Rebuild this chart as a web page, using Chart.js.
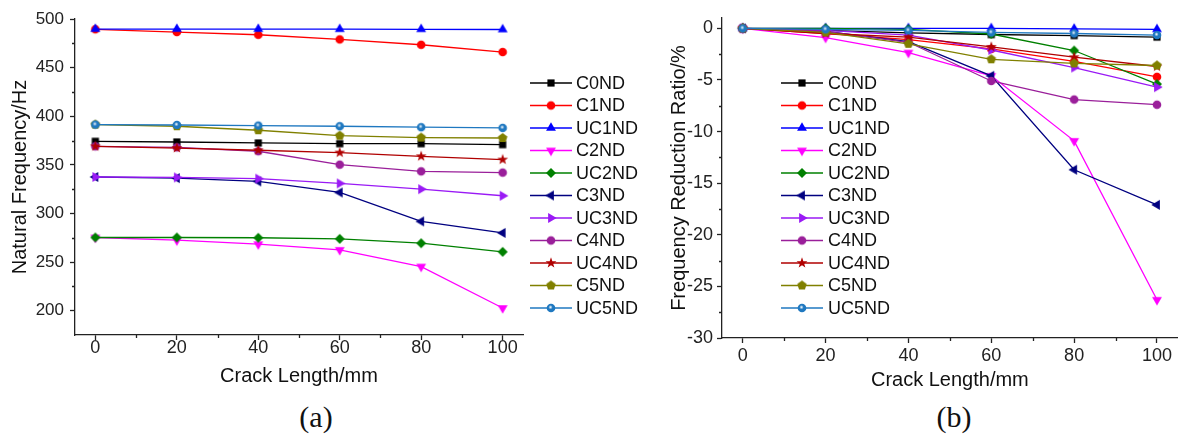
<!DOCTYPE html>
<html>
<head>
<meta charset="utf-8">
<script src="https://cdn.jsdelivr.net/npm/chart.js@4.4.1/dist/chart.umd.min.js"></script>
<style>
  html, body { margin:0; padding:0; background:#fff; }
  body { width:1178px; height:435px; position:relative; overflow:hidden; font-family:"Liberation Sans", Arial, sans-serif; }
  canvas { position:absolute; top:0; }
  #cA { left:0; }
  #cB { left:640px; }
  .cap { position:absolute; font-family:"Liberation Serif","Times New Roman",serif; font-size:30px; color:#111; transform:translate(-50%,-50%); }
</style>
</head>
<body>
<canvas id="cA" width="640" height="400"></canvas>
<canvas id="cB" width="544" height="400"></canvas>
<div class="cap" style="left:316px; top:417px;">(a)</div>
<div class="cap" style="left:954px; top:417px;">(b)</div>
<script>
// ---------- DATA ----------
const crackLength = [0, 20, 40, 60, 80, 100];
const seriesNames = ['C0ND','C1ND','UC1ND','C2ND','UC2ND','C3ND','UC3ND','C4ND','UC4ND','C5ND','UC5ND'];

// (a) Natural frequency / Hz
const freqC0ND  = [374.2, 373.5, 372.5, 371.8, 371.8, 370.8];
const freqC1ND  = [489.4, 486.6, 483.8, 479.0, 473.5, 466.0];
const freqUC1ND = [489.6, 489.6, 489.6, 489.5, 489.4, 489.2];
const freqC2ND  = [275.3, 272.5, 268.4, 262.6, 245.4, 202.8];
const freqUC2ND = [275.3, 275.3, 275.0, 273.9, 269.4, 260.5];
const freqC3ND  = [337.5, 336.4, 333.0, 321.6, 291.8, 280.0];
const freqUC3ND = [337.5, 337.1, 335.8, 330.9, 325.0, 318.2];
const freqC4ND  = [369.0, 368.0, 364.0, 350.2, 343.3, 342.0];
const freqUC4ND = [369.0, 367.3, 365.0, 362.6, 358.8, 355.4];
const freqC5ND  = [391.4, 389.7, 385.6, 380.0, 378.0, 377.6];
const freqUC5ND = [391.4, 391.0, 390.4, 389.7, 388.7, 388.0];

// (b) Frequency reduction ratio / %
const ratioC0ND  = [0, -0.2, -0.45, -0.6, -0.7, -0.85];
const ratioC1ND  = [0, -0.5, -1.1, -2.0, -3.2, -4.7];
const ratioUC1ND = [0, 0, 0, 0, -0.05, -0.1];
const ratioC2ND  = [0, -0.9, -2.35, -4.6, -10.9, -26.3];
const ratioUC2ND = [0, 0, -0.1, -0.55, -2.15, -5.4];
const ratioC3ND  = [0, -0.3, -1.3, -4.6, -13.7, -17.1];
const ratioUC3ND = [0, -0.2, -0.65, -2.1, -3.8, -5.7];
const ratioC4ND  = [0, -0.3, -1.35, -5.1, -6.9, -7.4];
const ratioUC4ND = [0, -0.5, -0.85, -1.8, -2.8, -3.7];
const ratioC5ND  = [0, -0.4, -1.5, -3.0, -3.4, -3.6];
const ratioUC5ND = [0, -0.1, -0.2, -0.4, -0.5, -0.65];

// tick labels
const xTicks = [0, 20, 40, 60, 80, 100];
const xMinorTicks = [10, 30, 50, 70, 90];
const yTicksA = [200, 250, 300, 350, 400, 450, 500];
const yMinorA = [225, 275, 325, 375, 425, 475];
const yTicksB = [-30, -25, -20, -15, -10, -5, 0];
const yMinorB = [-27.5, -22.5, -17.5, -12.5, -7.5, -2.5];

const freqData = [freqC0ND, freqC1ND, freqUC1ND, freqC2ND, freqUC2ND, freqC3ND, freqUC3ND, freqC4ND, freqUC4ND, freqC5ND, freqUC5ND];
const ratioData = [ratioC0ND, ratioC1ND, ratioUC1ND, ratioC2ND, ratioUC2ND, ratioC3ND, ratioUC3ND, ratioC4ND, ratioUC4ND, ratioC5ND, ratioUC5ND];

// ---------- STYLE ----------
const colors = ['#000000','#FF0000','#0000FF','#FF00FF','#008000','#000080','#9A1AF5','#9A1F9A','#B00000','#808000','#1F78C0'];
const markerTypes = ['square','circle','triUp','triDown','diamond','triLeft','triRight','circle','star','pentagon','sphere'];

function makeMarker(type, color) {
  const c = document.createElement('canvas');
  c.width = 14; c.height = 14;
  const g = c.getContext('2d');
  const cx = 7, cy = 7;
  g.fillStyle = color;
  g.beginPath();
  const poly = (n, r, rot) => {
    for (let i = 0; i < n; i++) {
      const a = rot + i * 2 * Math.PI / n;
      const px = cx + r * Math.cos(a), py = cy + r * Math.sin(a);
      if (i === 0) g.moveTo(px, py); else g.lineTo(px, py);
    }
    g.closePath();
  };
  if (type === 'square') { g.rect(cx - 3.6, cy - 3.6, 7.2, 7.2); }
  else if (type === 'circle' || type === 'sphere') { g.arc(cx, cy, 4.3, 0, Math.PI * 2); }
  else if (type === 'triUp') { poly(3, 5.7, -Math.PI / 2); }
  else if (type === 'triDown') { poly(3, 5.7, Math.PI / 2); }
  else if (type === 'triLeft') { poly(3, 5.7, Math.PI); }
  else if (type === 'triRight') { poly(3, 5.7, 0); }
  else if (type === 'diamond') { poly(4, 5.0, -Math.PI / 2); }
  else if (type === 'pentagon') { poly(5, 5.0, -Math.PI / 2); }
  else if (type === 'star') {
    for (let i = 0; i < 10; i++) {
      const r = i % 2 === 0 ? 5.7 : 2.3;
      const a = -Math.PI / 2 + i * Math.PI / 5;
      const px = cx + r * Math.cos(a), py = cy + r * Math.sin(a);
      if (i === 0) g.moveTo(px, py); else g.lineTo(px, py);
    }
    g.closePath();
  }
  g.fill();
  if (type === 'sphere') {
    const grd = g.createRadialGradient(cx - 0.5, cy - 0.8, 0, cx - 0.5, cy - 0.8, 2.2);
    grd.addColorStop(0, 'rgba(255,255,255,1)');
    grd.addColorStop(1, 'rgba(255,255,255,0)');
    g.fillStyle = grd;
    g.beginPath(); g.arc(cx - 0.5, cy - 0.8, 2.2, 0, Math.PI * 2); g.fill();
  }
  return c;
}
const markers = markerTypes.map((t, i) => makeMarker(t, colors[i]));

function buildDatasets(arrs) {
  return arrs.map((arr, i) => ({
    label: seriesNames[i],
    data: crackLength.map((x, k) => ({ x: x, y: arr[k] })),
    borderColor: colors[i],
    backgroundColor: colors[i],
    borderWidth: 1.3,
    pointStyle: markers[i],
    pointRadius: 5,
    pointHoverRadius: 5,
    tension: 0,
    order: -i
  }));
}

const AX = '#222';
const FONT = '"Liberation Sans", Arial, sans-serif';

const decoPlugin = {
  id: 'deco',
  afterDraw(chart, args, opts) {
    const ctx = chart.ctx;
    const xs = chart.scales.x, ys = chart.scales.y;
    ctx.save();
    ctx.strokeStyle = AX;
    ctx.lineWidth = 1.3;
    // minor ticks
    ctx.beginPath();
    opts.xMinor.forEach(v => {
      const px = Math.round(xs.getPixelForValue(v)) + 0.5;
      ctx.moveTo(px, xs.top); ctx.lineTo(px, xs.top + 3);
    });
    opts.yMinor.forEach(v => {
      const py = Math.round(ys.getPixelForValue(v)) + 0.5;
      ctx.moveTo(ys.right, py); ctx.lineTo(ys.right - 3, py);
    });
    ctx.stroke();
    // legend
    ctx.font = '18px ' + FONT;
    ctx.textBaseline = 'middle';
    ctx.textAlign = 'left';
    chart.data.datasets.forEach((ds, i) => {
      const y = opts.legY + opts.legStep * i;
      ctx.strokeStyle = ds.borderColor;
      ctx.lineWidth = 1.5;
      ctx.beginPath();
      ctx.moveTo(opts.legX0, y); ctx.lineTo(opts.legX1, y);
      ctx.stroke();
      const m = ds.pointStyle;
      ctx.drawImage(m, (opts.legX0 + opts.legX1) / 2 - m.width / 2, y - m.height / 2);
      ctx.fillStyle = '#111';
      ctx.fillText(ds.label, opts.legTx, y + 1);
    });
    ctx.restore();
  }
};

function axisCommon() {
  return {
    grid: { display: true, drawOnChartArea: false, drawTicks: true, tickLength: 5, tickWidth: 1.3, tickColor: AX },
    border: { display: true, color: AX, width: 1.3 }
  };
}

function makeChart(id, arrs, cfg) {
  return new Chart(document.getElementById(id), {
    type: 'line',
    data: { datasets: buildDatasets(arrs) },
    options: {
      responsive: false,
      animation: false,
      events: [],
      layout: { padding: cfg.padding },
      plugins: {
        legend: { display: false },
        tooltip: { enabled: false },
        deco: cfg.deco
      },
      scales: {
        x: Object.assign(axisCommon(), {
          type: 'linear', min: -5, max: 105,
          afterBuildTicks: s => { s.ticks = xTicks.map(v => ({ value: v })); },
          afterFit: s => { s.height = cfg.xHeight; s.paddingLeft = 0; s.paddingRight = 0; },
          ticks: { color: AX, font: { family: FONT, size: 18, lineHeight: 1 }, padding: cfg.xTickPad, maxRotation: 0 },
          title: { display: true, text: 'Crack Length/mm', color: '#111', font: { family: FONT, size: 20, lineHeight: 1.2 }, padding: { top: 0, bottom: cfg.xTitlePad } }
        }),
        y: Object.assign(axisCommon(), {
          type: 'linear', min: cfg.yMin, max: cfg.yMax,
          afterBuildTicks: s => { s.ticks = cfg.yTicks.map(v => ({ value: v })); },
          afterFit: s => { s.width = cfg.yWidth; s.paddingTop = 0; s.paddingBottom = 0; },
          ticks: { color: AX, font: { family: FONT, size: cfg.yFont, lineHeight: 1 }, padding: cfg.yTickPad },
          title: { display: true, text: cfg.yTitle, color: '#111', font: { family: FONT, size: 20, lineHeight: 1.2 }, padding: { top: cfg.yTitlePad, bottom: 0 } }
        })
      }
    },
    plugins: [decoPlugin]
  });
}

makeChart('cA', freqData, {
  padding: { left: 0, right: 117, top: 19, bottom: 0 },
  xHeight: 65, xTickPad: -1, xTitlePad: 12,
  yMin: 175, yMax: 500, yTicks: yTicksA, yWidth: 75, yFont: 17, yTickPad: 6,
  yTitle: 'Natural Frequency/Hz', yTitlePad: 8,
  deco: { xMinor: xMinorTicks, yMinor: yMinorA, legX0: 530, legX1: 572, legTx: 576, legY: 83, legStep: 22.5 }
});

makeChart('cB', ratioData, {
  padding: { left: 0, right: 1, top: 18, bottom: 0 },
  xHeight: 62, xTickPad: 4, xTitlePad: 8,
  yMin: -30, yMax: 1, yTicks: yTicksB, yWidth: 82, yFont: 18, yTickPad: 4,
  yTitle: 'Frequency Reduction Ratio/%', yTitlePad: 27,
  deco: { xMinor: xMinorTicks, yMinor: yMinorB, legX0: 141, legX1: 183, legTx: 188, legY: 83, legStep: 22.5 }
});
</script>
</body>
</html>
